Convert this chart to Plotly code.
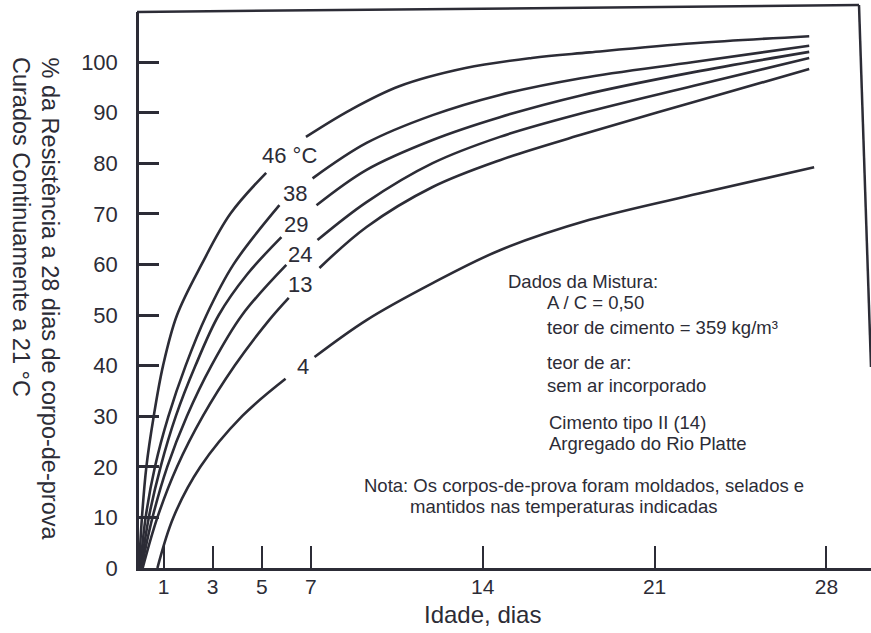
import plotly.graph_objects as go

# ---- data (idade em dias, % da resistência) ----
dias_46 = [0, 0.12, 0.30, 0.60, 0.98, 1.55, 2.55, 3.72, 5.18, None, 6.80, 8.60, 10.6, 13.3, 16.0, 18.35, 22.6, 27.3]
pct_46  = [0, 10.0, 20.0, 30.0, 40.0, 50.0, 60.0, 70.0, 78.1, None, 85.2, 90.5, 95.2, 98.8, 100.8, 101.9, 103.7, 105.1]

dias_38 = [0.05, 0.27, 0.65, 1.20, 1.90, 2.75, 3.85, 5.72, None, 7.07, 9.27, 11.96, 14.7, 18.0, 22.6, 27.3]
pct_38  = [0, 10.0, 20.0, 30.0, 40.0, 50.0, 60.0, 71.7, None, 77.0, 84.0, 89.5, 93.5, 96.8, 100.0, 103.2]

dias_29 = [0.08, 0.40, 0.88, 1.50, 2.30, 3.25, 4.40, 5.80, None, 7.23, 9.27, 11.96, 14.7, 18.0, 22.6, 27.3]
pct_29  = [0, 10.0, 20.0, 30.0, 40.0, 50.0, 58.0, 65.4, None, 71.7, 78.7, 84.6, 89.1, 93.4, 98.0, 102.0]

dias_24 = [0.10, 0.55, 1.15, 1.95, 2.95, 4.20, 6.00, None, 7.27, 9.27, 11.96, 14.7, 18.0, 22.6, 27.3]
pct_24  = [0, 10.0, 20.0, 30.0, 40.0, 50.0, 59.9, None, 64.8, 72.3, 80.0, 85.2, 89.8, 95.3, 100.8]

dias_13 = [0.15, 0.75, 1.55, 2.60, 3.90, 5.30, 6.10, None, 7.35, 9.27, 11.96, 14.7, 18.0, 22.6, 27.3]
pct_13  = [0, 10.0, 20.0, 30.0, 40.0, 49.0, 53.4, None, 59.3, 67.4, 75.3, 80.6, 85.6, 92.1, 98.6]

dias_4 = [0.75, 1.40, 2.50, 4.20, 5.97, None, 7.15, 9.27, 11.96, 14.7, 18.35, 22.8, 27.5]
pct_4  = [0, 10.0, 20.0, 30.0, 37.4, None, 41.7, 49.0, 56.3, 62.8, 68.8, 74.0, 79.2]

series = [
    ("46 °C", dias_46, pct_46, (6.13, 81.6)),
    ("38", dias_38, pct_38, (6.37, 74.1)),
    ("29", dias_29, pct_29, (6.41, 67.8)),
    ("24", dias_24, pct_24, (6.54, 61.9)),
    ("13", dias_13, pct_13, (6.54, 56.1)),
    ("4", dias_4, pct_4, (6.66, 39.9)),
]

x_ticks = [1, 3, 5, 7, 14, 21, 28]
y_ticks = [0, 10, 20, 30, 40, 50, 60, 70, 80, 90, 100]

INK = "#2c2c36"
FONT = "Liberation Sans, Arial, Helvetica, sans-serif"

W, H = 871, 633
L, R, T, B = 139, 0, 12, 65
PW, PH = W - L - R, H - T - B

def px(xp):
    return (xp - L) / PW

def py(yp):
    return (H - B - yp) / PH

fig = go.Figure()
annotations = []
for name, xs, ys, lab in series:
    fig.add_trace(go.Scatter(
        x=xs, y=ys, mode="lines", name=name, connectgaps=False,
        line=dict(color=INK, width=2.6, shape="spline", smoothing=1.0),
        hoverinfo="skip", showlegend=False,
    ))
    annotations.append(dict(
        x=lab[0], y=lab[1], xref="x", yref="y", text=name, showarrow=False,
        font=dict(family=FONT, size=22, color=INK), xanchor="center", yanchor="middle",
    ))

# y-axis title (two rotated lines)
annotations.append(dict(x=px(50), y=py(55), xref="paper", yref="paper",
                        text="% da Resistência a 28 dias de corpo-de-prova",
                        textangle=90, showarrow=False, xanchor="center", yanchor="top",
                        font=dict(family=FONT, size=23.5, color=INK)))
annotations.append(dict(x=px(21), y=py(55), xref="paper", yref="paper",
                        text="Curados Continuamente a 21 °C",
                        textangle=90, showarrow=False, xanchor="center", yanchor="top",
                        font=dict(family=FONT, size=23.5, color=INK)))
# x-axis title
annotations.append(dict(x=px(482), y=py(614), xref="paper", yref="paper",
                        text="Idade, dias", showarrow=False, xanchor="center", yanchor="middle",
                        font=dict(family=FONT, size=24, color=INK)))

notes = [
    ("Dados da Mistura:", 506, 281),
    ("A / C = 0,50", 545, 302),
    ("teor de cimento = 359 kg/m³", 545, 327),
    ("teor de ar:", 545, 362),
    ("sem ar incorporado", 545, 385),
    ("Cimento tipo II (14)", 547, 422),
    ("Argregado do Rio Platte", 547, 443),
    ("Nota: Os corpos-de-prova foram moldados, selados e", 362, 485),
    ("mantidos nas temperaturas indicadas", 408, 506),
]
for txt, xp, yp in notes:
    annotations.append(dict(x=px(xp), y=py(yp), xref="paper", yref="paper", text=txt,
                            showarrow=False, xanchor="left", yanchor="middle",
                            font=dict(family=FONT, size=18.5, color=INK)))

shapes = [
    # top frame line and right frame line of the scanned figure
    dict(type="line", xref="paper", yref="paper", x0=px(137), y0=py(12), x1=px(859), y1=py(5),
         line=dict(color=INK, width=2.5)),
    dict(type="line", xref="paper", yref="paper", x0=px(859), y0=py(5), x1=px(871), y1=py(367),
         line=dict(color=INK, width=2.5)),
]

fig.update_layout(
    width=W, height=H,
    margin=dict(l=L, r=R, t=T, b=B, pad=0),
    paper_bgcolor="white", plot_bgcolor="white",
    font=dict(family=FONT, color=INK),
    annotations=annotations, shapes=shapes,
    xaxis=dict(range=[0, PW / 24.55], tickvals=x_ticks, ticktext=[str(v) for v in x_ticks],
               ticks="inside", ticklen=22, tickwidth=2, tickcolor=INK,
               showline=True, linewidth=2.5, linecolor=INK, showgrid=False, zeroline=False,
               tickfont=dict(family=FONT, size=21, color=INK), ticklabelstandoff=-2,
               fixedrange=True),
    yaxis=dict(range=[0, PH / 5.06], tickvals=y_ticks, ticktext=[str(v) for v in y_ticks],
               ticks="inside", ticklen=20, tickwidth=2.5, tickcolor=INK,
               showline=True, linewidth=2.5, linecolor=INK, showgrid=False, zeroline=False,
               tickfont=dict(family=FONT, size=22, color=INK), ticklabelstandoff=14,
               fixedrange=True),
)

fig.write_html("out.html", config={"displayModeBar": False})
